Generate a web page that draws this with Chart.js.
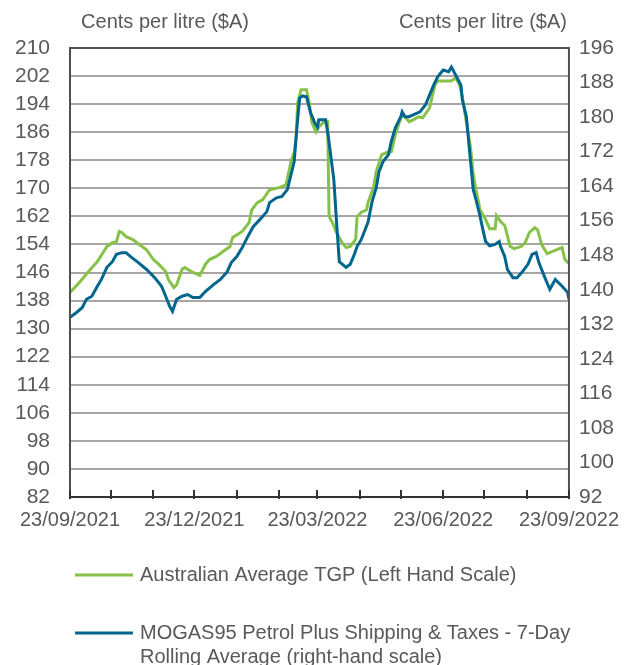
<!DOCTYPE html>
<html>
<head>
<meta charset="utf-8">
<script src="https://cdn.jsdelivr.net/npm/chart.js@4.4.1/dist/chart.umd.min.js"></script>
<style>
  html, body { margin: 0; padding: 0; background: #ffffff; }
  #wrap { width: 630px; height: 665px; }
</style>
</head>
<body>
<div id="wrap"><canvas id="chart" width="630" height="665"></canvas></div>
<script>
// days counted from 23/09/2021
const tgpDays = [0, 7, 15, 20, 27, 31, 34, 36, 38, 41, 46, 49, 56, 61, 65, 70, 72, 76, 78, 82, 84, 90, 95, 99, 102, 107, 112, 117, 119, 126, 131, 133, 137, 141, 146, 153, 158, 162, 164, 165.5, 166.5, 169, 173, 175, 177, 180, 182, 186, 188.5, 189.5, 192, 195, 199, 202, 205, 209, 210, 213, 217, 218, 222, 224, 228, 233, 235, 238, 242, 244, 248, 251, 255, 258, 263, 267, 269, 279, 282, 285, 287, 290, 293, 295, 297, 300, 304, 307, 311, 312, 315, 318, 322, 325, 330, 333, 336, 340, 342, 345, 349, 353, 358, 360, 362, 365];
const tgpValues = [140.3, 143.2, 146.9, 149.1, 153.4, 154.5, 154.8, 157.7, 157.4, 156.2, 155.4, 154.5, 152.5, 149.7, 148.3, 146.3, 144.0, 141.7, 142.5, 146.9, 147.4, 146.0, 145.2, 148.3, 149.7, 150.6, 152.0, 153.4, 156.0, 157.7, 160.2, 163.9, 165.9, 166.8, 169.6, 170.2, 171.0, 178.1, 180.1, 184.7, 194.4, 198.1, 198.1, 194.4, 188.7, 186.1, 187.5, 189.0, 189.0, 162.0, 160.2, 157.4, 154.5, 153.1, 153.4, 155.4, 161.9, 163.1, 163.9, 165.9, 170.2, 174.7, 179.6, 180.4, 180.4, 185.3, 190.1, 190.9, 189.0, 189.5, 190.4, 190.1, 192.9, 199.5, 200.6, 200.6, 201.5, 199.5, 196.1, 188.7, 181.6, 173.9, 169.6, 163.9, 161.1, 158.5, 158.5, 162.2, 160.5, 159.4, 153.4, 152.8, 153.4, 154.5, 157.4, 158.8, 158.2, 154.0, 151.4, 152.0, 152.8, 153.1, 149.7, 148.6];

const mogasDays = [0, 5, 9, 12, 16, 20, 23, 27, 31, 34, 38, 41, 45, 50, 56, 62, 67, 70, 73, 75, 78, 82, 86, 90, 95, 99, 105, 110, 115, 118, 122, 126, 130, 134, 139, 144, 146, 151, 155, 159, 162, 164, 166, 168, 170, 173, 176, 179, 181, 182, 187, 189, 193, 195, 197, 202, 205, 208, 210, 213, 218, 221, 224, 226, 229, 233, 235, 238, 242, 243, 245, 248, 251, 256, 260, 263, 266, 269, 273, 277, 279, 282, 286, 287, 290, 292, 295, 297, 300, 302, 304, 307, 311, 314, 315, 318, 320, 324, 327, 331, 335, 338, 341, 343, 347, 351, 355, 360, 364, 365];
const mogasValues = [133.6, 134.8, 135.9, 137.8, 138.5, 140.8, 142.4, 145.2, 146.5, 148.2, 148.6, 148.6, 147.5, 146.3, 144.7, 142.8, 140.8, 138.5, 136.1, 135.0, 137.8, 138.5, 138.9, 138.2, 138.2, 139.6, 141.2, 142.4, 144.2, 146.3, 147.7, 149.8, 152.3, 154.6, 156.3, 158.1, 160.2, 161.3, 161.6, 163.2, 167.1, 169.7, 177.7, 184.4, 184.9, 184.7, 181.0, 178.7, 177.7, 179.4, 179.4, 175.4, 165.5, 155.6, 146.5, 145.2, 145.9, 148.2, 150.0, 151.6, 155.6, 160.4, 163.6, 167.3, 169.7, 171.3, 174.3, 177.5, 180.1, 181.2, 180.1, 180.1, 180.5, 181.2, 182.8, 185.1, 187.4, 189.3, 190.9, 190.5, 191.6, 189.8, 187.4, 184.0, 180.1, 173.1, 163.2, 160.9, 157.0, 154.0, 151.2, 150.2, 150.5, 151.2, 150.0, 147.7, 144.7, 142.8, 142.8, 144.2, 145.9, 148.2, 148.6, 146.3, 143.1, 140.1, 142.4, 140.8, 139.4, 137.8];

const tickDays = [0, 30, 61, 91, 122, 153, 181, 212, 242, 273, 303, 334, 365];
const labelDays = [0, 91, 181, 273, 365];
const dateLabels = ["23/09/2021", "23/12/2021", "23/03/2022", "23/06/2022", "23/09/2022"];

const seriesNames = [
    "Australian Average TGP (Left Hand Scale)",
    "MOGAS95 Petrol Plus Shipping & Taxes - 7-Day|Rolling Average (right-hand scale)",
];
const GREEN = "#86c248";
const BLUE = "#00668d";
const TEXT = "#595959";
const FONT = "'Liberation Sans', Arial, sans-serif";

const toPoints = (days, values) => days.map((d, i) => ({ x: d, y: values[i] }));

const decor = {
    id: "decor",
    afterDraw(chart) {
        const { ctx, chartArea: a, scales } = chart;
        ctx.save();
        // frame
        ctx.strokeStyle = "#505050";
        ctx.lineWidth = 2;
        ctx.strokeRect(a.left, a.top, a.right - a.left, a.bottom - a.top);
        // inside ticks on the date axis
        ctx.strokeStyle = "#333333";
        ctx.beginPath();
        tickDays.forEach((d) => {
            const px = Math.round(scales.x.getPixelForValue(d));
            ctx.moveTo(px, a.bottom + 2);
            ctx.lineTo(px, a.bottom - 7);
        });
        ctx.stroke();
        ctx.beginPath();
        ctx.moveTo(a.left, a.bottom);
        ctx.lineTo(a.right, a.bottom);
        ctx.stroke();

        // axis titles
        ctx.fillStyle = TEXT;
        ctx.font = "20px " + FONT;
        ctx.textBaseline = "middle";
        ctx.textAlign = "center";
        ctx.fillText("Cents per litre ($A)", 165, 22);
        ctx.fillText("Cents per litre ($A)", 483, 22);

        // legend
        ctx.textAlign = "left";
        const rows = [
            { color: GREEN, y: 575, lines: seriesNames[0].split("|") },
            { color: BLUE, y: 633, lines: seriesNames[1].split("|") },
        ];
        rows.forEach((r) => {
            ctx.strokeStyle = r.color;
            ctx.lineWidth = 3;
            ctx.beginPath();
            ctx.moveTo(75, r.y);
            ctx.lineTo(133, r.y);
            ctx.stroke();
            r.lines.forEach((t, i) => ctx.fillText(t, 140, r.y + i * 24));
        });
        ctx.restore();
    },
};

new Chart(document.getElementById("chart"), {
    type: "line",
    data: {
        datasets: [
            {
                label: seriesNames[0],
                data: toPoints(tgpDays, tgpValues),
                borderColor: GREEN,
                borderWidth: 3,
                pointRadius: 0,
                tension: 0,
                yAxisID: "y",
                order: 1,
            },
            {
                label: seriesNames[1],
                data: toPoints(mogasDays, mogasValues),
                borderColor: BLUE,
                borderWidth: 3,
                pointRadius: 0,
                tension: 0,
                yAxisID: "y1",
                order: 0,
            },
        ],
    },
    options: {
        responsive: false,
        animation: false,
        devicePixelRatio: 1,
        layout: { padding: { top: 48, left: 0, right: 0, bottom: 0 } },
        plugins: {
            legend: { display: false },
            tooltip: { enabled: false },
        },
        scales: {
            x: {
                type: "linear",
                min: 0,
                max: 365,
                afterBuildTicks: (scale) => {
                    scale.ticks = tickDays.map((d) => ({ value: d }));
                },
                afterFit: (scale) => {
                    scale.height = 168;
                },
                grid: { display: false, drawTicks: false },
                border: { display: false },
                ticks: {
                    autoSkip: false,
                    maxRotation: 0,
                    padding: 11,
                    color: TEXT,
                    font: { family: FONT, size: 20 },
                    callback: (value) => {
                        const i = labelDays.indexOf(value);
                        return i >= 0 ? dateLabels[i] : "";
                    },
                },
            },
            y: {
                position: "left",
                min: 82,
                max: 210,
                afterFit: (scale) => {
                    scale.width = 70;
                },
                grid: { color: "#a6a6a6", lineWidth: 2, drawTicks: false },
                border: { display: false },
                ticks: {
                    stepSize: 8,
                    autoSkip: false,
                    padding: 20,
                    color: TEXT,
                    font: { family: FONT, size: 21 },
                },
            },
            y1: {
                position: "right",
                min: 92,
                max: 196,
                afterFit: (scale) => {
                    scale.width = 58;
                },
                grid: { display: false, drawTicks: false },
                border: { display: false },
                ticks: {
                    stepSize: 8,
                    autoSkip: false,
                    padding: 10,
                    color: TEXT,
                    font: { family: FONT, size: 21 },
                },
            },
        },
    },
    plugins: [decor],
});
</script>
</body>
</html>
